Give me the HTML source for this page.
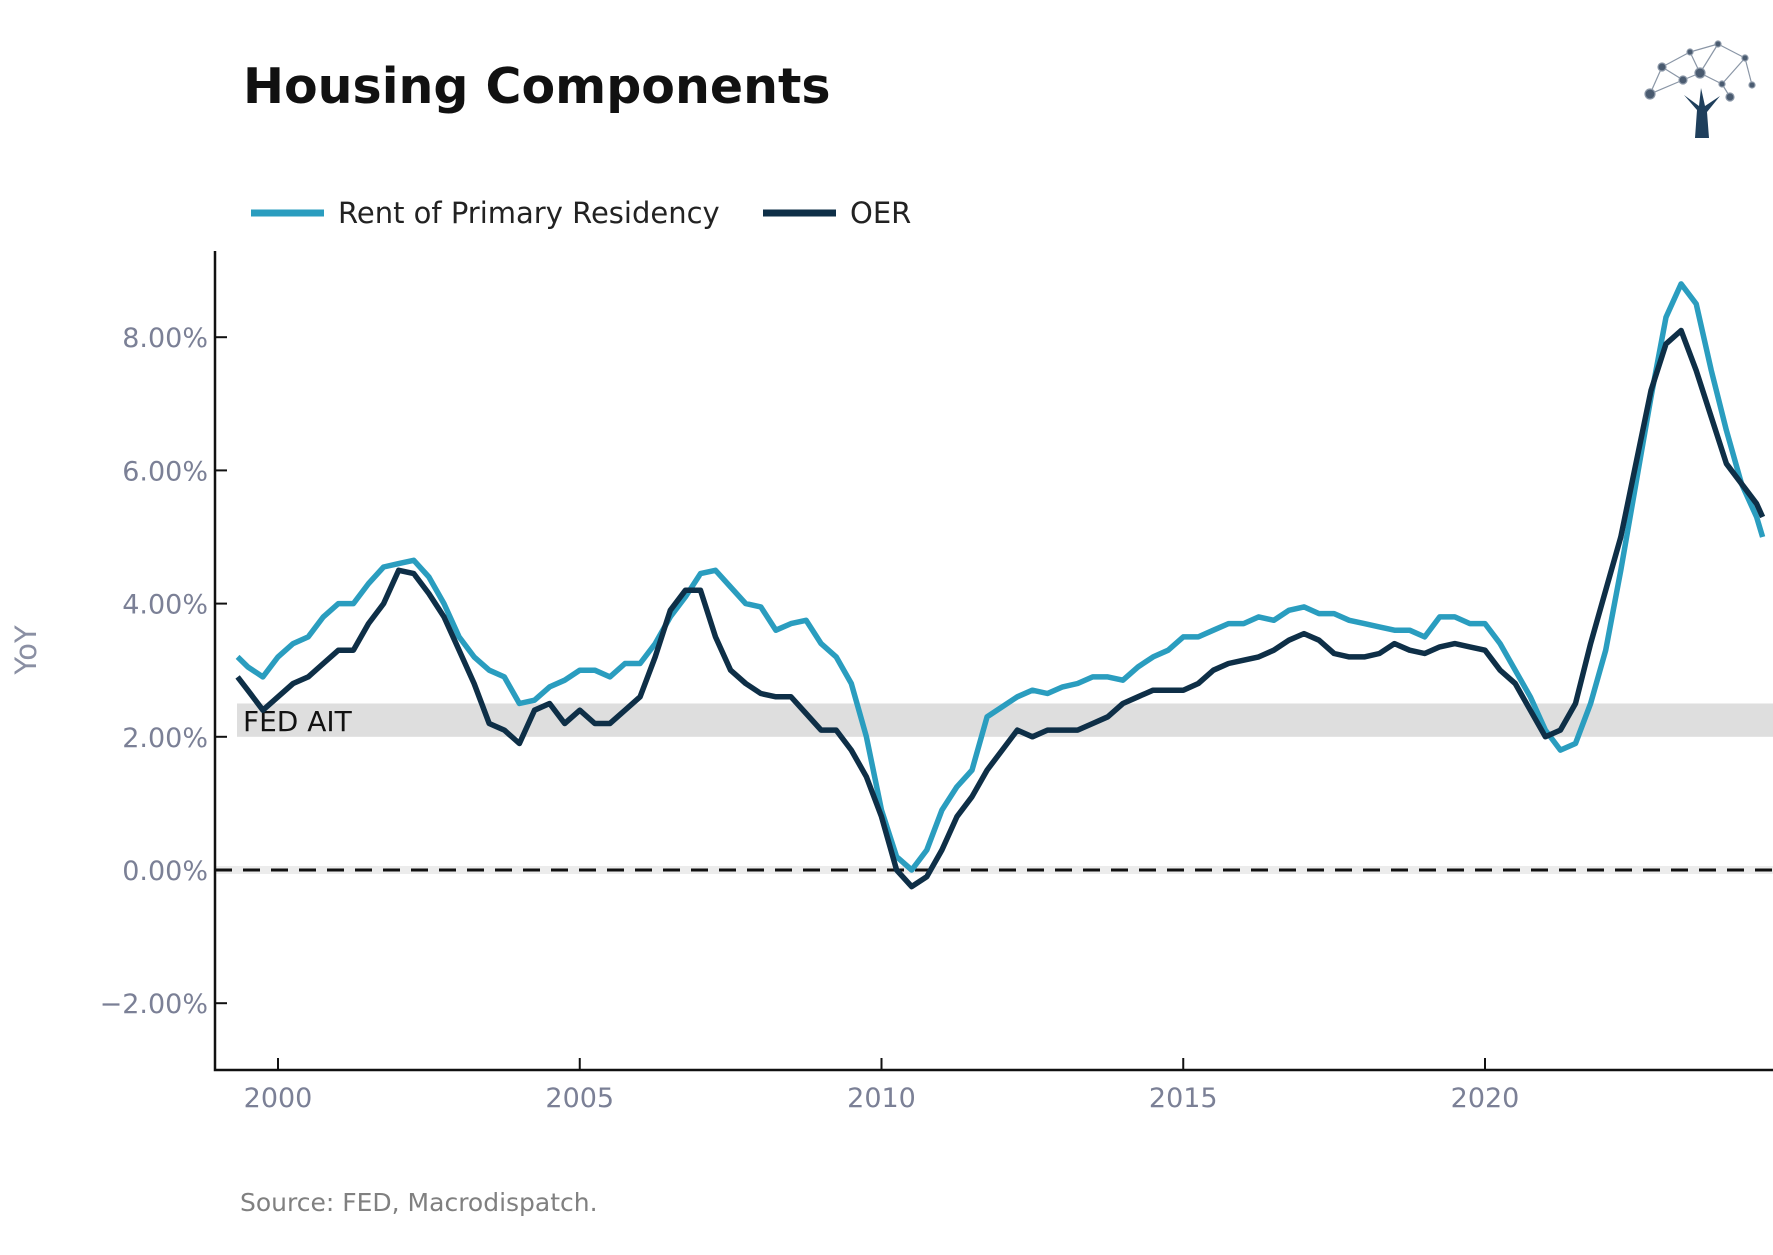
<!DOCTYPE html>
<html><head><meta charset="utf-8"><style>
body{margin:0;background:#fff;font-family:"Liberation Sans","DejaVu Sans",sans-serif;}
svg text{font-family:"DejaVu Sans","Liberation Sans",sans-serif;}
</style></head><body>
<svg id="chart" width="1773" height="1250" viewBox="0 0 1773 1250">
<rect width="1773" height="1250" fill="#fff"/>
<text x="243" y="103" font-size="49" font-weight="bold" fill="#111">Housing Components</text>
<g stroke="#8a96a6" stroke-width="1.2" fill="#4a5b70">
<line x1="1650" y1="94" x2="1662" y2="67"/><line x1="1662" y1="67" x2="1690" y2="52"/><line x1="1690" y1="52" x2="1718" y2="44"/><line x1="1718" y1="44" x2="1745" y2="58"/><line x1="1745" y1="58" x2="1752" y2="85"/><line x1="1662" y1="67" x2="1683" y2="80"/><line x1="1683" y1="80" x2="1700" y2="73"/><line x1="1700" y1="73" x2="1722" y2="84"/><line x1="1722" y1="84" x2="1745" y2="58"/><line x1="1690" y1="52" x2="1700" y2="73"/><line x1="1718" y1="44" x2="1700" y2="73"/><line x1="1650" y1="94" x2="1683" y2="80"/><line x1="1722" y1="84" x2="1730" y2="97"/>
<circle cx="1650" cy="94" r="5"/><circle cx="1662" cy="67" r="4"/><circle cx="1690" cy="52" r="3"/><circle cx="1718" cy="44" r="3"/><circle cx="1745" cy="58" r="3"/><circle cx="1752" cy="85" r="3"/><circle cx="1683" cy="80" r="4"/><circle cx="1700" cy="73" r="5"/><circle cx="1722" cy="84" r="3"/><circle cx="1730" cy="97" r="4"/>
<path d="M1695 138 L1697 110 L1684 95 L1699 106 L1701 88 L1705 106 L1720 96 L1707 112 L1709 138 Z" fill="#1f3f5c" stroke="none"/>
</g>
<g>
<line x1="251" y1="213" x2="324" y2="213" stroke="#2a9dbf" stroke-width="7"/>
<text x="338" y="223" font-size="29" fill="#222">Rent of Primary Residency</text>
<line x1="763" y1="213" x2="836" y2="213" stroke="#0e2f47" stroke-width="7"/>
<text x="850" y="223" font-size="29" fill="#222">OER</text>
</g>
<text transform="translate(36,650) rotate(-90)" text-anchor="middle" font-size="29" fill="#8a8fa3">YoY</text>
<text x="240" y="1211" font-size="25" fill="#808080">Source: FED, Macrodispatch.</text>
<g id="plot"></g>
</svg>
<script>
const rent=[3.2,3.05,2.9, 3.2,3.4,3.5,3.8, 4.0,4.0,4.3,4.55, 4.6,4.65,4.4,4.0, 3.5,3.2,3.0,2.9, 2.5,2.55,2.75,2.85, 3.0,3.0,2.9,3.1, 3.1,3.4,3.8,4.1, 4.45,4.5,4.25,4.0, 3.95,3.6,3.7,3.75, 3.4,3.2,2.8,2.0, 0.9,0.2,0.0,0.3, 0.9,1.25,1.5,2.3, 2.45,2.6,2.7,2.65, 2.75,2.8,2.9,2.9, 2.85,3.05,3.2,3.3, 3.5,3.5,3.6,3.7, 3.7,3.8,3.75,3.9, 3.95,3.85,3.85,3.75, 3.7,3.65,3.6,3.6, 3.5,3.8,3.8,3.7, 3.7,3.4,3.0,2.6, 2.1,1.8,1.9,2.5, 3.3,4.5,5.8,7.1, 8.3,8.8,8.5,7.5, 6.6,5.8,5.3, 5.0];
const oer=[2.9,2.7,2.4, 2.6,2.8,2.9,3.1, 3.3,3.3,3.7,4.0, 4.5,4.45,4.15,3.8, 3.3,2.8,2.2,2.1, 1.9,2.4,2.5,2.2, 2.4,2.2,2.2,2.4, 2.6,3.2,3.9,4.2, 4.2,3.5,3.0,2.8, 2.65,2.6,2.6,2.35, 2.1,2.1,1.8,1.4, 0.8,0.0,-0.25,-0.1, 0.3,0.8,1.1,1.5, 1.8,2.1,2.0,2.1, 2.1,2.1,2.2,2.3, 2.5,2.6,2.7,2.7, 2.7,2.8,3.0,3.1, 3.15,3.2,3.3,3.45, 3.55,3.45,3.25,3.2, 3.2,3.25,3.4,3.3, 3.25,3.35,3.4,3.35, 3.3,3.0,2.8,2.4, 2.0,2.1,2.5,3.4, 4.2,5.0,6.1,7.2, 7.9,8.1,7.5,6.8, 6.1,5.8,5.5, 5.3];
const dates=[1999.33].concat(Array.from({length:101},(_,k)=>1999.5+0.25*k)).concat([2024.6]);
const yTicks=[-2,0,2,4,6,8];
const xTicks=[2000,2005,2010,2015,2020];
const band=[2.0,2.5];
const NS='http://www.w3.org/2000/svg';
const X=y=>278+(y-2000)*60.35;
const Y=v=>870-v*66.6;
const plot=document.getElementById('plot');
function mk(t,a){const e=document.createElementNS(NS,t);for(const k in a)e.setAttribute(k,a[k]);plot.appendChild(e);return e;}
const b=mk('rect',{x:237,y:Y(band[1]),width:1773-237,height:Y(band[0])-Y(band[1]),fill:'#dedede'});


const bt=mk('text',{x:243,y:Y(2)-6,'font-size':28,fill:'#111'});bt.textContent='FED AIT';


const zb=mk('line',{x1:215,x2:1773,y1:Y(0),y2:Y(0),stroke:'#ececec','stroke-width':8});


const z=mk('line',{x1:215,x2:1773,y1:Y(0),y2:Y(0),stroke:'#111','stroke-width':3,'stroke-dasharray':'17,11'});


function series(vals,color,name){const p=mk('polyline',{points:vals.map((v,i)=>X(dates[i]).toFixed(1)+','+Y(v).toFixed(1)).join(' '),fill:'none',stroke:color,'stroke-width':5.5,'stroke-linejoin':'round'});

}
series(rent,'#2a9dbf','rent-line');
series(oer,'#0e2f47','oer-line');
const ax=mk('path',{d:'M215 251 V1070 H1773',fill:'none',stroke:'#111','stroke-width':2.5});


yTicks.forEach(t=>{const l=mk('line',{x1:215,x2:227,y1:Y(t),y2:Y(t),stroke:'#111','stroke-width':2});


const tx=mk('text',{x:208,y:Y(t)+10,'text-anchor':'end','font-size':27,fill:'#7b8096'});tx.textContent=(t<0?'\u2212':'')+Math.abs(t).toFixed(2)+'%';

});
xTicks.forEach(t=>{const l=mk('line',{x1:X(t),x2:X(t),y1:1070,y2:1058,stroke:'#111','stroke-width':2});


const tx=mk('text',{x:X(t),y:1107,'text-anchor':'middle','font-size':27,fill:'#7b8096'});tx.textContent=t;

});
</script>
</body></html>
